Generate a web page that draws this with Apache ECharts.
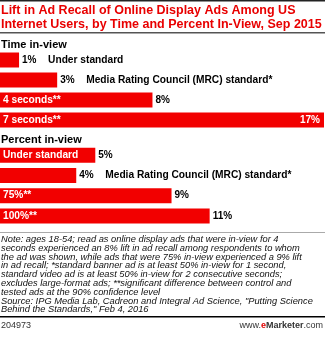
<!DOCTYPE html>
<html><head><meta charset="utf-8">
<script src="https://cdn.jsdelivr.net/npm/echarts@6/dist/echarts.min.js"></script>
<style>html,body{margin:0;padding:0;background:#fff}#c{width:325px;height:337px}</style>
</head><body><div id="c"></div>
<script>
const timeCategories = ['Under standard', 'Media Rating Council (MRC) standard*', '4 seconds**', '7 seconds**'];
const timeValues = [1, 3, 8, 17];
const percentCategories = ['Under standard', 'Media Rating Council (MRC) standard*', '75%**', '100%**'];
const percentValues = [5, 4, 9, 11];
const groupTitles = ['Time in-view', 'Percent in-view'];
const titleText = 'Lift in Ad Recall of Online Display Ads Among US\nInternet Users, by Time and Percent In-View, Sep 2015';
const noteText = 'Note: ages 18-54; read as online display ads that were in-view for 4\nseconds experienced an 8% lift in ad recall among respondents to whom\nthe ad was shown, while ads that were 75% in-view experienced a 9% lift\nin ad recall; *standard banner ad is at least 50% in-view for 1 second,\nstandard video ad is at least 50% in-view for 2 consecutive seconds;\nexcludes large-format ads; **significant difference between control and\ntested ads at the 90% confidence level\nSource: IPG Media Lab, Cadreon and Integral Ad Science, "Putting Science\nBehind the Standards," Feb 4, 2016';

// label modes per bar: 'out' = value + name outside, 'in' = name inside, value outside, 'inFull' = name inside, value inside right
const timeModes = ['out', 'out', 'in', 'inFull'];
const percentModes = ['in', 'out', 'in', 'in'];

const RED = '#f20000';
const FONT = 'Liberation Sans';
const chart = echarts.init(document.getElementById('c'), null, {renderer: 'canvas'});

function makeSeries(idx, cats, vals, modes) {
  const main = vals.map((v, i) => {
    const m = modes[i];
    let label;
    if (m === 'out') {
      label = {show: true, position: 'right', distance: 3,
        formatter: '{v|' + v + '%}{n|' + cats[i] + '}',
        rich: {v: {fontWeight: 'bold', fontSize: 10, color: '#000', fontFamily: FONT, width: 26},
               n: {fontWeight: 'bold', fontSize: 10.2, color: '#000', fontFamily: FONT}}};
    } else if (m === 'in') {
      label = {show: true, position: 'right', distance: 3, formatter: v + '%',
        fontWeight: 'bold', fontSize: 10, color: '#000', fontFamily: FONT};
    } else {
      label = {show: true, position: 'insideRight', distance: 4, formatter: v + '%',
        fontWeight: 'bold', fontSize: 10, color: '#fff', fontFamily: FONT};
    }
    return {value: v, label};
  });
  const names = vals.map((v, i) => {
    const m = modes[i];
    return {value: v, label: {show: m !== 'out', position: 'insideLeft', distance: 3,
      formatter: cats[i], fontWeight: 'bold', fontSize: 10.2, color: '#fff', fontFamily: FONT}};
  });
  return [
    {type: 'bar', xAxisIndex: idx, yAxisIndex: idx, data: main, barWidth: 15,
     itemStyle: {color: RED}, silent: true, animation: false},
    {type: 'bar', xAxisIndex: idx, yAxisIndex: idx, data: names, barWidth: 15, barGap: '-100%',
     itemStyle: {color: 'rgba(0,0,0,0)'}, silent: true, animation: false}
  ];
}

const option = {
  animation: false,
  title: {text: titleText, left: 1, top: 4, padding: 0,
    textStyle: {color: '#e80000', fontSize: 12.5, fontWeight: 'bold', fontFamily: FONT, lineHeight: 13.5}},
  grid: [
    {left: 0, right: 1, top: 50, height: 80},
    {left: 0, right: 1, top: 145, height: 81}
  ],
  xAxis: [
    {gridIndex: 0, type: 'value', min: 0, max: 17, show: false},
    {gridIndex: 1, type: 'value', min: 0, max: 17, show: false}
  ],
  yAxis: [
    {gridIndex: 0, type: 'category', data: timeCategories, inverse: true, show: false},
    {gridIndex: 1, type: 'category', data: percentCategories, inverse: true, show: false}
  ],
  series: [...makeSeries(0, timeCategories, timeValues, timeModes), ...makeSeries(1, percentCategories, percentValues, percentModes)],
  graphic: [
    {type: 'rect', shape: {x: 0, y: 0, width: 325, height: 1.5}, style: {fill: '#222'}},
    {type: 'rect', shape: {x: 0, y: 32, width: 325, height: 1.5}, style: {fill: '#555'}},
    {type: 'text', left: 1, top: 39, style: {text: groupTitles[0], font: 'bold 11px ' + FONT, fill: '#000'}},
    {type: 'text', left: 1, top: 134, style: {text: groupTitles[1], font: 'bold 11px ' + FONT, fill: '#000'}},
    {type: 'rect', shape: {x: 0, y: 232, width: 325, height: 1}, style: {fill: '#aaa'}},
    {type: 'text', left: 1, top: 235, style: {text: noteText, font: 'italic 9.3px ' + FONT, fill: '#111', lineHeight: 8.8}},
    {type: 'rect', shape: {x: 0, y: 316, width: 325, height: 1.5}, style: {fill: '#000'}},
    {type: 'text', left: 1, top: 321, style: {text: '204973', font: '9px ' + FONT, fill: '#333'}},
    {type: 'text', right: 2, top: 321, style: {rich: {a: {fontSize: 9, fontFamily: FONT, fill: '#333'}, e: {fontSize: 9, fontFamily: FONT, fill: '#e00000', fontWeight: 'bold'}, b: {fontSize: 9, fontFamily: FONT, fill: '#333', fontWeight: 'bold'}}, text: '{a|www.}{e|e}{b|Marketer}{a|.com}'}}
  ]
};
chart.setOption(option);
</script></body></html>
